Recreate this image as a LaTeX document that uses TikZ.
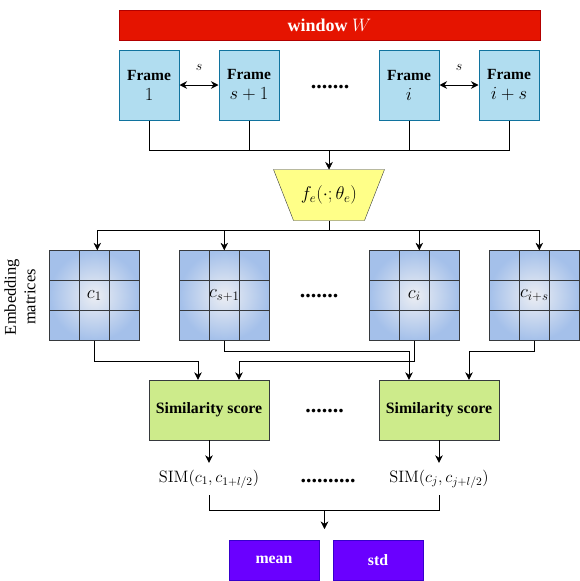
\RequirePackage{fix-cm}
\documentclass[tikz,border=0pt]{standalone}
\usepackage[no-math]{fontspec}
\setmainfont{Liberation Serif}
\usetikzlibrary{arrows.meta,calc}
\definecolor{winred}{HTML}{E51400}
\definecolor{winborder}{HTML}{B20000}
\definecolor{framefill}{HTML}{B1DDF0}
\definecolor{frameborder}{HTML}{10739E}
\definecolor{trapfill}{HTML}{FFFF88}
\definecolor{darkline}{HTML}{36393D}
\definecolor{simfill}{HTML}{CDEB8B}
\definecolor{purfill}{HTML}{6A00FF}
\definecolor{purborder}{HTML}{3700CC}
\definecolor{matin}{HTML}{ECEEF3}
\definecolor{matout}{HTML}{A4C0EA}
\pgfdeclarelayer{bg}\pgfsetlayers{bg,main}
\begin{document}
\begin{tikzpicture}[x=1pt,y=-1pt,line width=1pt,
  arr/.style={-{Stealth[length=7.5pt,width=7.5pt]}},
  darr/.style={{Stealth[length=7.5pt,width=7.5pt]}-{Stealth[length=7.5pt,width=7.5pt]}},
  framebox/.style={draw=frameborder,fill=framefill,minimum width=60pt,minimum height=70pt,inner sep=0pt,align=center,font=\fontsize{15.5}{20}\selectfont},
  matbox/.style={draw=darkline,shading=radial,inner color=matin,outer color=matout,minimum width=90pt,minimum height=90pt,inner sep=0pt,font=\fontsize{18.5}{20}\selectfont},
  gridline/.style={draw=darkline,line width=1pt},
  simbox/.style={draw=darkline,fill=simfill,minimum width=120pt,minimum height=60pt,inner sep=0pt,font=\fontsize{15.8}{18}\selectfont\bfseries},
  outbox/.style={draw=purborder,fill=purfill,text=white,minimum width=90pt,minimum height=40pt,inner sep=0pt,font=\fontsize{15.8}{18}\selectfont\bfseries},
  dotsnode/.style={anchor=base,inner sep=0pt,font=\fontsize{22}{24}\selectfont\bfseries},
  simtext/.style={inner sep=0pt,minimum height=32pt,font=\fontsize{16.5}{18}\selectfont},
  slabel/.style={inner sep=0pt,font=\fontsize{14}{16}\selectfont}
]
\useasboundingbox (0,0) rectangle (580,581);

% window
\node[draw=winborder,fill=winred,text=white,minimum width=421pt,minimum height=30pt,inner sep=0pt,font=\fontsize{18}{20}\selectfont\bfseries] (win) at (329.5,25) {window $W$};

% frames
\node[framebox] (f1) at (149,85) {\textbf{Frame}\\{\fontsize{18.5}{20}\selectfont$1$}};
\node[framebox] (f2) at (249,85) {\textbf{Frame}\\{\fontsize{18.5}{20}\selectfont$s+1$}};
\node[framebox] (f3) at (409,85) {\textbf{Frame}\\{\fontsize{18.5}{20}\selectfont$i$}};
\node[framebox] (f4) at (509,85) {\textbf{Frame}\\{\fontsize{18.5}{20}\selectfont$i+s$}};
\draw[darr] (f1.east) -- (f2.west);
\draw[darr] (f3.east) -- (f4.west);
\node[slabel] (s1lab) at (199,67) {$s$};
\node[slabel] (s2lab) at (459,67) {$s$};
\node[dotsnode] (dots1) at (330,88) {.......};

% join to encoder
\coordinate (jt) at (329,150);
\draw (f1.south) -- ++(0,30) -- ($(f4.south)+(0,-30pt)$) -- (f4.south);
\draw (f2.south) -- ++(0,30);
\draw (f3.south) -- ++(0,30);

% encoder trapezoid
\node[minimum width=110pt,minimum height=50pt,inner sep=0pt,font=\fontsize{18.5}{20}\selectfont] (fe) at (329,195) {$f_e(\cdot;\theta_e)$};
\begin{pgfonlayer}{bg}
\filldraw[draw=darkline,fill=trapfill] (fe.north west) -- (fe.north east) -- ([xshift=-20pt]fe.south east) -- ([xshift=20pt]fe.south west) -- cycle;
\end{pgfonlayer}
\draw[arr] (jt) -- (fe.north);

% embedding matrices
\node[matbox] (m1) at (94.3,295.5) {$c_1$};
\node[matbox] (m2) at (224.3,295.5) {$c_{s+1}$};
\node[matbox] (m3) at (414.3,295.5) {$c_i$};
\node[matbox] (m4) at (534.3,295.5) {$c_{i+s}$};
\foreach \m in {m1,m2,m3,m4}{
  \draw[gridline] ([xshift=30pt]\m.north west) -- ([xshift=30pt]\m.south west);
  \draw[gridline] ([xshift=60pt]\m.north west) -- ([xshift=60pt]\m.south west);
  \draw[gridline] ([yshift=-30pt]\m.north west) -- ([yshift=-30pt]\m.north east);
  \draw[gridline] ([yshift=-60pt]\m.north west) -- ([yshift=-60pt]\m.north east);
}
\node[rotate=90,align=center,inner sep=0pt,font=\fontsize{16.5}{19.5}\selectfont] (emb) at (20,297) {Embedding\\matrices};
\node[dotsnode] (dots2) at (319,297) {.......};

\coordinate (jb) at ($(fe.south)+(0,10)$);
\draw (fe.south) -- (jb);
\draw[arr] (jb) -| ([xshift=3pt]m1.north);
\draw[arr] (jb) -| (m2.north);
\draw[arr] (jb) -| ([xshift=5pt]m3.north);
\draw[arr] (jb) -| ([xshift=5pt]m4.north);

% similarity boxes
\node[simbox] (sb1) at (209,410) {Similarity score};
\node[simbox] (sb2) at (439,410) {Similarity score};
\node[dotsnode] (dots3) at (324.5,412) {.......};

\draw[arr] (m1.south) -- ++(0,20) -| ([xshift=-11pt]sb1.north);
\draw[arr] (m2.south) -- ++(0,10) -| ([xshift=-30pt]sb2.north);
\draw[arr] (m3.south) -- ++(0,20) -| ([xshift=30pt]sb1.north);
\draw[arr] (m4.south) -- ++(0,10) -| ([xshift=30pt]sb2.north);

% SIM texts
\node[simtext] (sim1) at (209,479) {$\mathrm{SIM}(c_1,c_{1+l/2})$};
\node[simtext] (sim2) at (439,479) {$\mathrm{SIM}(c_j,c_{j+l/2})$};
\node[dotsnode] (dots4) at (328,482) {..........};
\draw[arr] (sb1.south) -- (sim1.north);
\draw[arr] (sb2.south) -- (sim2.north);

\draw (sim1.south) -- ++(0,15) -| (sim2.south);
\coordinate (jo) at (324.5,510);
\coordinate (outend) at (324.5,529);
\draw[arr] (jo) -- (outend);

% outputs
\node[outbox] (mean) at (274,560) {mean};
\node[outbox] (std) at (378,560) {std};
\end{tikzpicture}
\end{document}
